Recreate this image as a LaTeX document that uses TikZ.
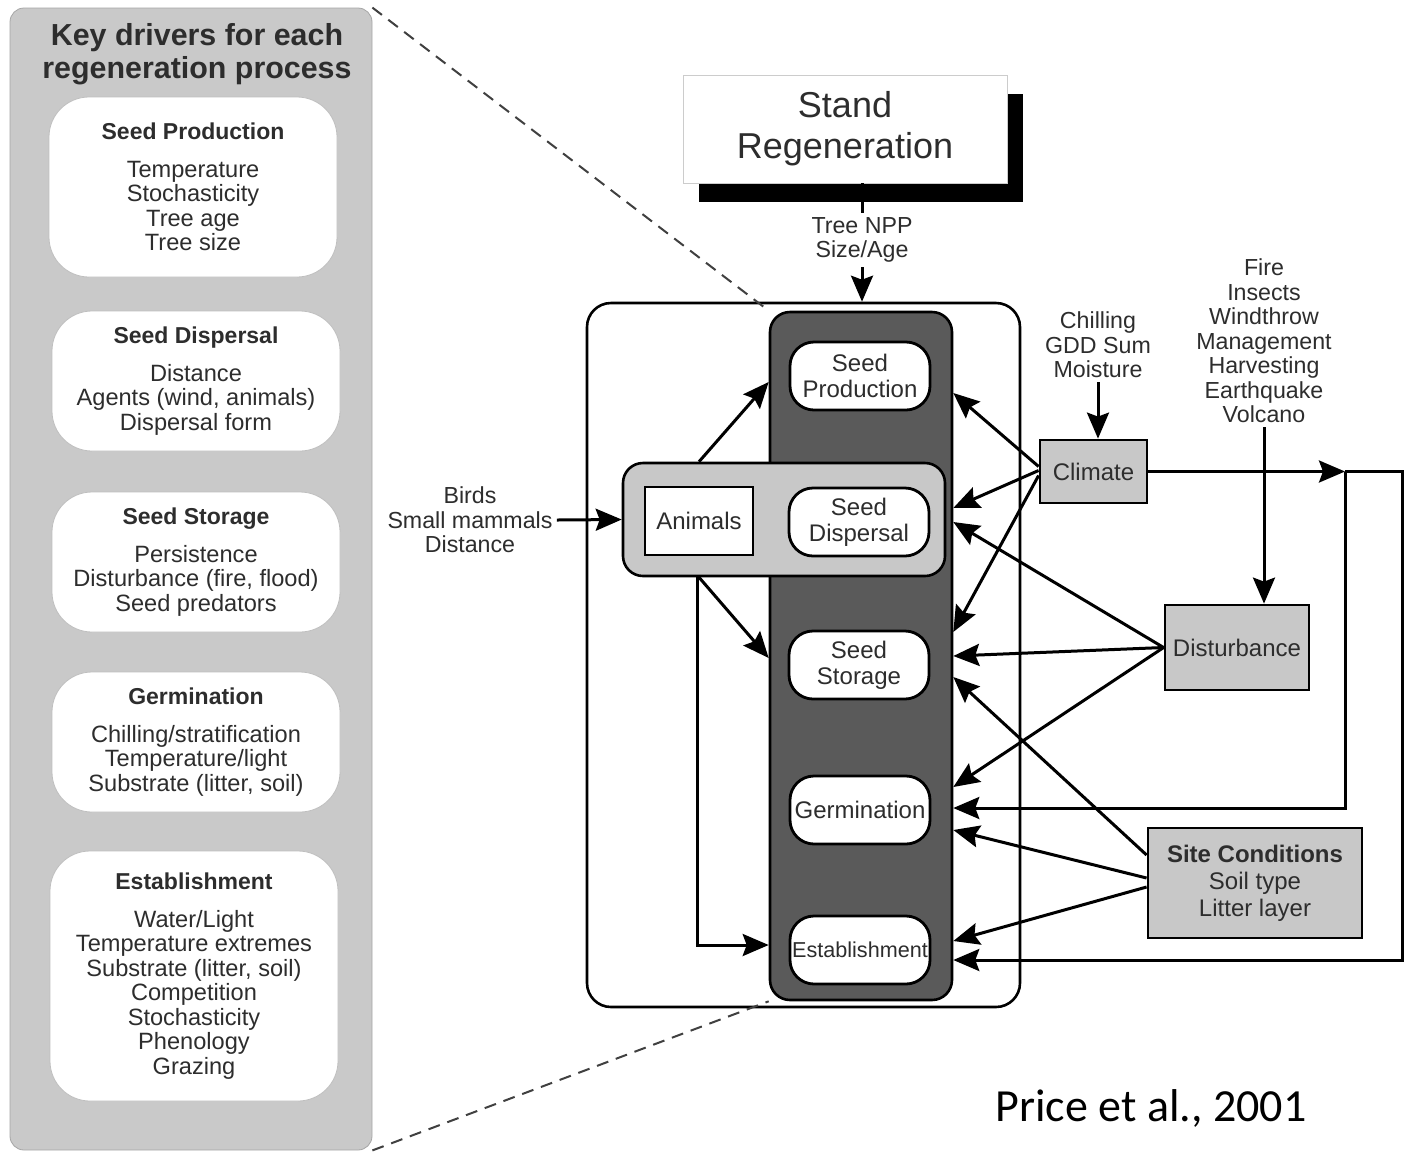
\documentclass[tikz,border=0pt]{standalone}
\usepackage{fontspec}
\setmainfont{Liberation Sans}
\newfontfamily\citefont{Carlito}
\usetikzlibrary{arrows.meta,calc,shadows}

\definecolor{panelgray}{RGB}{201,201,201}
\definecolor{boxgray}{RGB}{200,200,200}
\definecolor{colgray}{RGB}{90,90,90}
\definecolor{txtgray}{RGB}{45,45,45}

\newcommand\drvttl{\bfseries\fontsize{11.5}{12.25}\selectfont}

\tikzset{
  arr/.style={-{Stealth[length=13pt,width=11pt,inset=2pt]}, line width=1.5pt},
  lne/.style={line width=1.5pt},
  dsh/.style={black!75, line width=1pt, dash pattern=on 6pt off 4pt},
  drvbox/.style={draw=gray!50, fill=white, rounded corners=20pt, minimum width=144pt,
    align=center, font=\fontsize{11.8}{12.25}\selectfont, text=txtgray},
  procbox/.style={draw=black, line width=1.4pt, fill=white, rounded corners=12pt,
    minimum width=70pt, minimum height=34pt, align=center, inner sep=0.5pt,
    font=\fontsize{12}{13}\selectfont, text=txtgray},
  factor/.style={draw=black, line width=1.4pt, fill=boxgray, align=center,
    font=\fontsize{12}{13.5}\selectfont, text=txtgray},
  lbl/.style={align=center, font=\fontsize{11.6}{12.25}\selectfont, text=txtgray, inner sep=2pt},
}

\begin{document}
\begin{tikzpicture}[x=0.5pt,y=-0.5pt]
\useasboundingbox[fill=white] (0,0) rectangle (1404,1153);

% Key drivers panel
\node[draw=gray!70, fill=panelgray, rounded corners=7pt, minimum width=181pt,
  minimum height=571pt, inner sep=0pt] (panel) at (191,579) {};
\node[font=\bfseries\fontsize{15.2}{16.5}\selectfont, text=txtgray, align=center] (keyttl)
  at (197,54) {Key drivers for each\\regeneration process};

\node[drvbox, minimum height=90pt] (dprod) at (193,187)
  {{\drvttl Seed Production}\\[6.5pt]Temperature\\Stochasticity\\Tree age\\Tree size};
\node[drvbox, minimum height=70pt] (ddisp) at (196,381)
  {{\drvttl Seed Dispersal}\\[6.5pt]Distance\\Agents (wind, animals)\\Dispersal form};
\node[drvbox, minimum height=70pt] (dstor) at (196,562)
  {{\drvttl Seed Storage}\\[6.5pt]Persistence\\Disturbance (fire, flood)\\Seed predators};
\node[drvbox, minimum height=70pt] (dgerm) at (196,742)
  {{\drvttl Germination}\\[6.5pt]Chilling/stratification\\Temperature/light\\Substrate (litter, soil)};
\node[drvbox, minimum height=125pt] (destb) at (194,976)
  {{\drvttl Establishment}\\[6.5pt]Water/Light\\Temperature extremes\\Substrate (litter, soil)\\Competition\\Stochasticity\\Phenology\\Grazing};

% Stand regeneration
\node[draw=gray!40, fill=white, minimum width=162pt, minimum height=54pt, align=center,
  font=\fontsize{18}{20.5}\selectfont, text=txtgray,
  drop shadow={shadow xshift=8pt, shadow yshift=-9.5pt, fill=black, opacity=1}] (stand)
  at (845,129) {Stand\\Regeneration};
\node[lbl] (npp) at (862,240) {Tree NPP\\Size/Age};

% Regeneration processes
\node[draw, line width=1.3pt, fill=white, rounded corners=12pt, minimum width=216.5pt,
  minimum height=352pt] (frame) at (803.5,655) {};
\node[draw, line width=1.3pt, fill=colgray, rounded corners=10pt, minimum width=91pt,
  minimum height=344pt] (col) at (861,656) {};
\draw[dsh] (panel.north east) -- (col.north west);
\draw[dsh] (panel.south east) -- (col.south west);
\node[draw, line width=1.3pt, fill=boxgray, rounded corners=10pt, minimum width=161pt,
  minimum height=56.5pt] (grp) at (784,519.5) {};
\node[draw, line width=1.4pt, fill=white, minimum width=54pt, minimum height=34pt,
  font=\fontsize{12}{13}\selectfont, text=txtgray] (anim) at (699,521) {Animals};

\node[procbox] (sp) at (860,376) {Seed\\Production};
\node[procbox] (sd) at (859,522) {Seed\\Dispersal};
\node[procbox] (ss) at (859,665) {Seed\\Storage};
\node[procbox] (ge) at (860,810) {Germination};
\node[procbox, font=\fontsize{10.8}{13}\selectfont] (es) at (860,950) {Establishment};

% Drivers
\node[lbl] (birds) at (470,520) {Birds\\Small mammals\\Distance};
\node[factor, minimum width=53.5pt, minimum height=31.5pt] (clim) at (1093.5,471.5) {Climate};
\node[lbl] (chill) at (1098,345) {Chilling\\GDD Sum\\Moisture};
\node[factor, minimum width=72pt, minimum height=42.5pt] (dist) at (1237,647.5) {Disturbance};
\node[lbl] (fire) at (1264,341) {Fire\\Insects\\Windthrow\\Management\\Harvesting\\Earthquake\\Volcano};
\node[factor, minimum width=107pt, minimum height=55pt] (site) at (1255,883)
  {\textbf{Site Conditions}\\Soil type\\Litter layer};

\node[font=\citefont\fontsize{23}{26}\selectfont, anchor=base] (cite) at (1151,1121) {Price et al., 2001};

% Connectors
\draw[lne] (npp.north |- stand.south) -- (npp.north);
\draw[arr] (npp.south) -- (npp.south |- frame.north);
\draw[arr] (birds.east) -- (grp.west);
\draw[arr] (grp.north -| anim.center) -- ($(col.west |- sp.center)+(0,6)$);
\draw[arr] (grp.south -| anim.center) -- ($(col.west |- ss.center)+(0,-7)$);
\draw[arr] ($(grp.south -| anim.center)+(-2,0)$) |- ($(col.west |- es.center)+(0,-5)$);

\draw[arr] (chill.south) -- (chill.south |- clim.north);
\draw[arr] (fire.south) -- (fire.south |- dist.north);

\draw[arr] ($(clim.west)+(0,-5)$) -- ($(col.east |- sp.center)+(0,17)$);
\draw[arr] ($(clim.west)+(0,-1)$) -- ($(col.east |- sd.center)+(0,-14)$);
\draw[arr] ($(clim.west)+(0,4)$) -- ($(col.east |- ss.center)+(0,-33)$);

\draw[arr] (dist.west) -- ($(col.east |- sd.center)+(0,0)$);
\draw[arr] (dist.west) -- ($(col.east |- ss.center)+(0,-9)$);
\draw[arr] (dist.west) -- ($(col.east |- ge.center)+(0,-23)$);

\draw[arr] ($(site.west)+(0,-28)$) -- ($(col.east |- ss.center)+(0,12)$);
\draw[arr] ($(site.west)+(0,-5)$) -- ($(col.east |- ge.center)+(0,20)$);
\draw[arr] ($(site.west)+(0,4)$) -- ($(col.east |- es.center)+(0,-9)$);

\coordinate (jn) at (1345,471.5);
\coordinate (edge) at (1402,471.5);
\coordinate (gtgt) at ($(col.east |- ge.center)+(0,-2)$);
\coordinate (etgt) at ($(col.east |- es.center)+(0,10)$);
\draw[arr] (clim.east) -- (jn);
\draw[arr] (jn) -- (jn |- gtgt) -- (gtgt);
\draw[arr] (jn) -- (edge) -- (edge |- etgt) -- (etgt);
\end{tikzpicture}
\end{document}
